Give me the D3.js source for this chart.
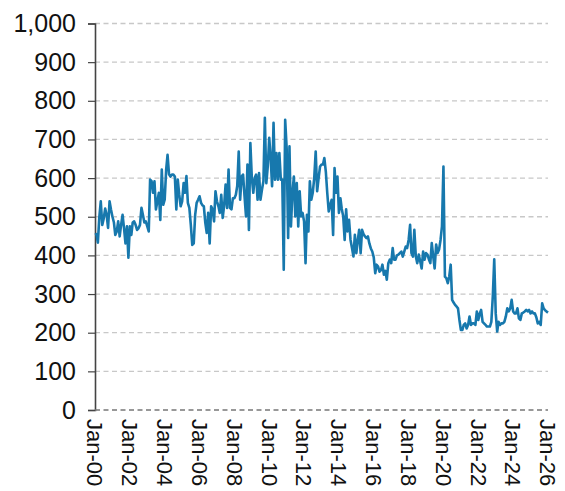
<!DOCTYPE html>
<html>
<head>
  <meta charset="UTF-8">
  <style>
    body { margin: 0; background: #fff; }
    svg text { font-family: "Liberation Sans", Arial, sans-serif; fill: #111; }
  </style>
</head>
<body>
<svg></svg>
<script src="https://d3js.org/d3.v7.min.js"></script>
<script>
// monthly values, Jan..Dec for each year
const v2000 = [453, 455, 433, 500, 540, 479, 495, 521, 505, 471, 540, 519];
const v2001 = [500, 485, 453, 462, 488, 449, 479, 505, 470, 431, 475, 394];
const v2002 = [475, 453, 485, 488, 479, 466, 470, 479, 523, 505, 485, 488];
const v2003 = [475, 462, 596, 592, 562, 592, 519, 540, 562, 492, 622, 531];
const v2004 = [544, 622, 660, 610, 604, 609, 609, 604, 519, 596, 557, 527];
const v2005 = [540, 587, 562, 605, 536, 523, 480, 427, 431, 505, 536, 544];
const v2006 = [553, 536, 530, 527, 485, 458, 510, 431, 527, 519, 488, 566];
const v2007 = [540, 527, 510, 557, 497, 530, 583, 523, 622, 523, 519, 548];
const v2008 = [548, 557, 580, 669, 544, 604, 609, 553, 501, 635, 466, 691];
const v2009 = [600, 562, 600, 609, 544, 613, 544, 570, 592, 756, 587, 630];
const v2010 = [704, 650, 579, 743, 596, 665, 596, 665, 596, 596, 363, 751];
const v2011 = [678, 445, 682, 475, 560, 604, 501, 587, 475, 566, 501, 510];
const v2012 = [488, 380, 505, 462, 592, 544, 562, 600, 669, 566, 600, 630];
const v2013 = [635, 635, 652, 617, 562, 514, 530, 544, 453, 626, 562, 604];
const v2014 = [510, 548, 520, 501, 440, 519, 462, 492, 440, 420, 397, 453];
const v2015 = [406, 440, 466, 406, 466, 455, 449, 445, 449, 431, 418, 410];
const v2016 = [395, 354, 376, 371, 358, 362, 376, 350, 360, 337, 380, 389];
const v2017 = [380, 419, 389, 389, 400, 402, 406, 410, 397, 410, 423, 419];
const v2018 = [440, 479, 406, 397, 466, 397, 380, 402, 385, 366, 410, 389];
const v2019 = [406, 402, 390, 380, 432, 397, 366, 428, 406, 415, 440, 475];
const v2020 = [630, 345, 341, 328, 345, 376, 285, 278, 272, 268, 263, 233];
const v2021 = [207, 207, 220, 224, 211, 220, 242, 220, 224, 224, 220, 255];
const v2022 = [233, 250, 259, 228, 224, 220, 216, 216, 216, 228, 294, 390];
const v2023 = [250, 203, 228, 220, 224, 224, 228, 242, 263, 255, 263, 285];
const v2024 = [255, 250, 250, 263, 237, 233, 250, 252, 255, 259, 255, 259];
const v2025 = [250, 255, 250, 250, 240, 224, 228, 220, 276, 263, 258, 255];
const v2026 = [252];

const yearlyValues = [v2000, v2001, v2002, v2003, v2004, v2005, v2006, v2007, v2008,
  v2009, v2010, v2011, v2012, v2013, v2014, v2015, v2016, v2017, v2018, v2019,
  v2020, v2021, v2022, v2023, v2024, v2025, v2026];

const yTicks = [0, 100, 200, 300, 400, 500, 600, 700, 800, 900, 1000];
const xTickYears = [2000, 2002, 2004, 2006, 2008, 2010, 2012, 2014, 2016, 2018, 2020, 2022, 2024, 2026];

let width = 565, height = 491;
let margin = {top: 23.5, right: 17, bottom: 81, left: 95};

let svg = d3.select("svg").attr("width", width).attr("height", height);

// flatten to dated points
let data = [];
yearlyValues.forEach((vals, i) => {
  vals.forEach((v, m) => data.push({date: new Date(2000 + i, m, 1), value: v}));
});

let x = d3.scaleTime()
    .domain([new Date(2000, 0, 1), new Date(2026, 0, 1)])
    .range([margin.left, width - margin.right]);

let y = d3.scaleLinear()
    .domain([0, 1000])
    .range([height - margin.bottom, margin.top]);

// gridlines
svg.append("g")
    .selectAll("line")
    .data(yTicks.filter(d => d > 0))
    .enter()
    .append("line")
    .attr("x1", margin.left)
    .attr("x2", width - margin.right)
    .attr("y1", d => y(d))
    .attr("y2", d => y(d))
    .attr("stroke", "#c8c8c8")
    .attr("stroke-width", 1.3)
    .attr("stroke-dasharray", "5,3.5");

// y axis
let yAxis = svg.append("g")
    .attr("transform", `translate(${margin.left},0)`)
    .call(d3.axisLeft(y).tickValues(yTicks).tickSize(7).tickPadding(12)
      .tickFormat(d3.format(",")));
yAxis.select(".domain").attr("stroke", "#444").attr("stroke-width", 1.6);
yAxis.selectAll(".tick line").attr("stroke", "#444").attr("stroke-width", 1.2);
yAxis.selectAll(".tick text")
    .style("font-size", "25px")
    .attr("fill", "#111");

// x axis baseline (dashed)
svg.append("line")
    .attr("x1", margin.left)
    .attr("x2", width - margin.right)
    .attr("y1", y(0))
    .attr("y2", y(0))
    .attr("stroke", "#777")
    .attr("stroke-width", 1.6)
    .attr("stroke-dasharray", "5,3.5");

// x labels, rotated
let fmt = d3.timeFormat("%b-%y");
svg.append("g")
    .selectAll("text")
    .data(xTickYears)
    .enter()
    .append("text")
    .attr("transform", d => `translate(${x(new Date(d, 0, 1))},${y(0) + 9}) rotate(90)`)
    .attr("dy", "0.35em")
    .attr("text-anchor", "start")
    .style("font-size", "22px")
    .text(d => fmt(new Date(d, 0, 1)));

// series line
let line = d3.line()
    .x(d => x(d.date))
    .y(d => y(d.value));

svg.append("path")
    .datum(data)
    .attr("fill", "none")
    .attr("stroke", "#1778ad")
    .attr("stroke-width", 2.6)
    .attr("stroke-linejoin", "round")
    .attr("d", line);
</script>
</body>
</html>
